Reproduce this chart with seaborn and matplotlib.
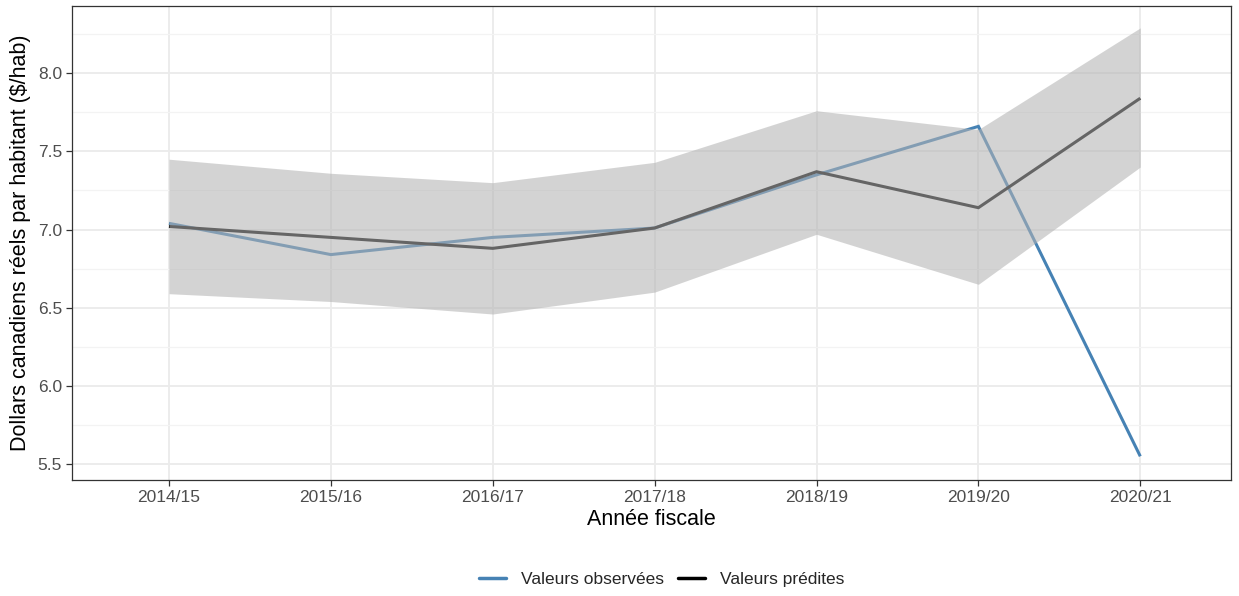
import pandas as pd
import seaborn as sns
import matplotlib.pyplot as plt
from matplotlib.ticker import MultipleLocator

# Data
years = ["2014/15", "2015/16", "2016/17", "2017/18", "2018/19", "2019/20", "2020/21"]
observed = [7.04, 6.84, 6.95, 7.01, 7.35, 7.66, 5.55]
predicted = [7.02, 6.95, 6.88, 7.01, 7.37, 7.14, 7.84]
lower = [6.59, 6.54, 6.46, 6.60, 6.97, 6.65, 7.40]
upper = [7.45, 7.36, 7.30, 7.43, 7.76, 7.64, 8.29]

obs_label = "Valeurs observées"
pred_label = "Valeurs prédites"

df = pd.DataFrame({
    "annee": years * 2,
    "valeur": observed + predicted,
    "serie": [obs_label] * len(years) + [pred_label] * len(years),
})

sns.set_theme(style="whitegrid")
plt.rcParams["font.family"] = ["Liberation Sans", "DejaVu Sans"]

fig = plt.figure(figsize=(12.39, 5.96), dpi=100)
ax = fig.add_axes([0.058, 0.195, 0.9355, 0.795])

sns.lineplot(data=df, x="annee", y="valeur", hue="serie",
             palette={obs_label: "#4682B4", pred_label: "black"},
             linewidth=2.2, ax=ax, legend=False, sort=False,
             solid_capstyle="butt", solid_joinstyle="miter")

# confidence ribbon drawn on top, semi-transparent
ax.fill_between(years, lower, upper, color="#b3b3b3", alpha=0.57, linewidth=0, zorder=3)

ax.set_xlim(-0.6, len(years) - 1 + 0.56)
ax.set_ylim(5.40, 8.43)
ax.yaxis.set_major_locator(MultipleLocator(0.5))
ax.yaxis.set_minor_locator(MultipleLocator(0.25))
ax.yaxis.set_major_formatter(plt.FuncFormatter(lambda v, p: f"{v:.1f}"))

ax.set_facecolor("white")
ax.grid(which="major", color="#ebebeb", linewidth=1.3)
ax.grid(which="minor", axis="y", color="#f3f3f3", linewidth=0.9)
ax.set_axisbelow(True)
for sp in ax.spines.values():
    sp.set_color("#333333")
    sp.set_linewidth(0.9)

ax.tick_params(axis="both", which="major", length=4, width=0.9, color="#333333",
               labelsize=12.5, labelcolor="#4d4d4d", pad=3, left=True, bottom=True)
ax.tick_params(axis="y", which="minor", length=0)

ax.set_xlabel("Année fiscale", fontsize=15.5, color="black", labelpad=3)
ax.set_ylabel("Dollars canadiens réels par habitant ($/hab)", fontsize=15.5, color="black", labelpad=5)

handles = [plt.Line2D([], [], color="#4682B4", linewidth=2.5),
           plt.Line2D([], [], color="black", linewidth=2.5)]
fig.legend(handles, [obs_label, pred_label], loc="center", bbox_to_anchor=(0.534, 0.027),
           ncol=2, frameon=False, fontsize=12.5, handlelength=1.55, columnspacing=0.85,
           handletextpad=0.85)

fig.savefig("out.png", dpi=100)
